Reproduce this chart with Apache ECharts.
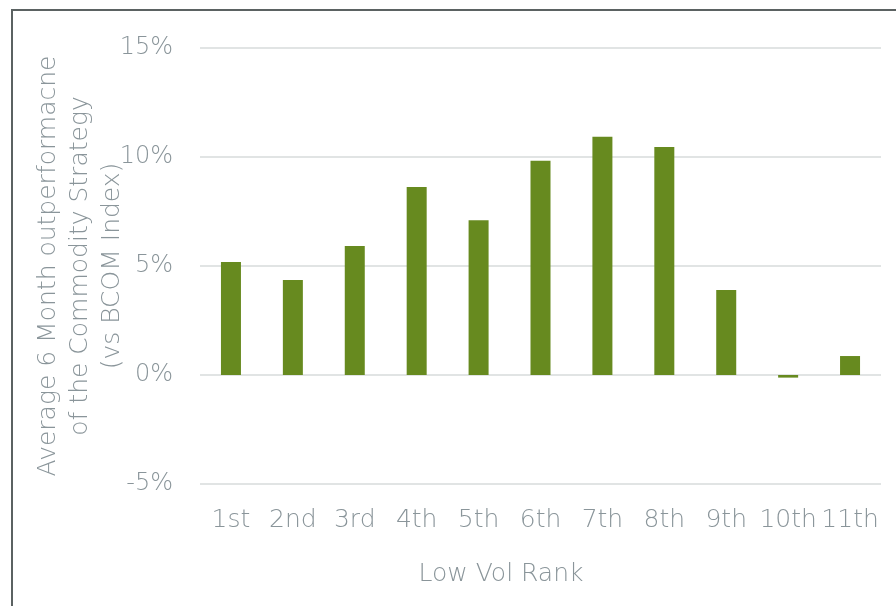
<!DOCTYPE html>
<html>
<head>
<meta charset="utf-8">
<script src="https://cdn.jsdelivr.net/npm/echarts@6/dist/echarts.min.js"></script>
<style>
html,body{margin:0;padding:0;background:#fff;}
#bar{width:896px;height:606px;}
</style>
</head>
<body>
<div id="bar"></div>
<script>
var categories = ['1st','2nd','3rd','4th','5th','6th','7th','8th','9th','10th','11th'];
var values = [5.18, 4.36, 5.92, 8.62, 7.1, 9.83, 10.93, 10.46, 3.9, -0.12, 0.87];
var yTicks = [-5, 0, 5, 10, 15];

var textColor = '#8a959a';
var fontName = 'DejaVu Sans';

var barChart = echarts.init(document.getElementById('bar'));
var option = {
	animation:false,
	textStyle:{fontFamily:fontName},
	graphic:[{
		type:'rect',
		shape:{x:12,y:10,width:1000,height:1000},
		style:{fill:'none',stroke:'#5b6262',lineWidth:2},
		silent:true
	}],
	grid:{
		left:200,
		right:15,
		top:48,
		bottom:122,
		outerBoundsMode:'none'
	},
	xAxis:{
		type:'category',
		data:categories,
		name:'Low Vol Rank',
		nameLocation:'middle',
		nameGap:78,
		nameMoveOverlap:false,
		nameTextStyle:{color:textColor,fontSize:25,fontFamily:fontName,fontWeight:200,padding:[0,79,0,0]},
		axisLine:{show:false,onZero:false},
		axisTick:{show:false},
		axisLabel:{
			color:textColor,
			fontSize:25,
			fontFamily:fontName,
			fontWeight:200,
			margin:24,
			interval:0
		}
	},
	yAxis:{
		type:'value',
		min:yTicks[0],
		max:yTicks[yTicks.length-1],
		interval:5,
		name:'Average 6 Month outperformacne\nof the Commodity Strategy\n(vs BCOM Index)',
		nameLocation:'middle',
		nameGap:72,
		nameRotate:90,
		nameMoveOverlap:false,
		nameTextStyle:{color:textColor,fontSize:25,fontFamily:fontName,fontWeight:200,lineHeight:32,align:'center'},
		axisLine:{show:false},
		axisTick:{show:false},
		axisLabel:{
			color:textColor,
			fontSize:24,
			fontFamily:fontName,
			fontWeight:200,
			margin:27,
			formatter:function(v){return v+'%';}
		},
		splitLine:{
			show:true,
			lineStyle:{color:'#e1e4e4',width:2}
		}
	},
	series:[{
		name:'outperformance',
		type:'bar',
		silent:true,
		barWidth:20,
		itemStyle:{color:'#678a1f'},
		data:values
	}]
};
barChart.setOption(option);
</script>
</body>
</html>
